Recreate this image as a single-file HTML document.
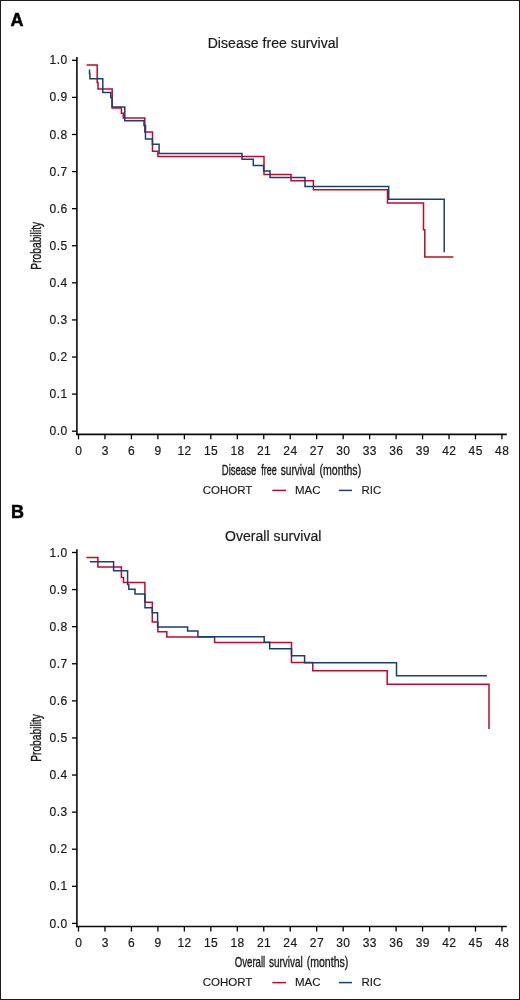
<!DOCTYPE html>
<html><head><meta charset="utf-8">
<style>
html,body{margin:0;padding:0;background:#fff;}
body{width:520px;height:1000px;overflow:hidden;}
svg{display:block;will-change:transform;}
text{font-family:"Liberation Sans",sans-serif;fill:#1a1a1a;}
.lab{font-size:36px;font-weight:bold;fill:#000;stroke:#000;stroke-width:1px;}
.title{font-size:28px;letter-spacing:0.1px;stroke:#1a1a1a;stroke-width:0.4px;}
.tl{font-size:24px;letter-spacing:0.8px;stroke:#1a1a1a;stroke-width:0.4px;}
.leg{font-size:23px;stroke:#1a1a1a;stroke-width:0.3px;}
.cond{font-size:28px;stroke:#1a1a1a;stroke-width:0.7px;}
.ax{stroke:#0a0a0a;stroke-width:1.6;}
.tk{stroke:#000;stroke-width:1.3;}
</style></head><body>
<svg width="520" height="1000" viewBox="0 0 520 1000">
<rect x="0.5" y="0.5" width="519" height="999" fill="#fff" stroke="#1c1c1c" stroke-width="1"/>
<text transform="translate(10.40 25.90) scale(0.5)" class="lab">A</text>
<text transform="translate(273.20 48.40) scale(0.5)" class="title" text-anchor="middle">Disease free survival</text>
<line x1="76.9" y1="57.1" x2="76.9" y2="435.05" class="ax"/>
<line x1="76.1" y1="434.35" x2="506.8" y2="434.35" class="ax"/>
<line x1="72" y1="431.20" x2="77" y2="431.20" class="tk"/>
<text transform="translate(67.50 435.30) scale(0.5)" class="tl" text-anchor="end">0.0</text>
<line x1="72" y1="394.11" x2="77" y2="394.11" class="tk"/>
<text transform="translate(67.50 398.21) scale(0.5)" class="tl" text-anchor="end">0.1</text>
<line x1="72" y1="357.02" x2="77" y2="357.02" class="tk"/>
<text transform="translate(67.50 361.12) scale(0.5)" class="tl" text-anchor="end">0.2</text>
<line x1="72" y1="319.93" x2="77" y2="319.93" class="tk"/>
<text transform="translate(67.50 324.03) scale(0.5)" class="tl" text-anchor="end">0.3</text>
<line x1="72" y1="282.84" x2="77" y2="282.84" class="tk"/>
<text transform="translate(67.50 286.94) scale(0.5)" class="tl" text-anchor="end">0.4</text>
<line x1="72" y1="245.75" x2="77" y2="245.75" class="tk"/>
<text transform="translate(67.50 249.85) scale(0.5)" class="tl" text-anchor="end">0.5</text>
<line x1="72" y1="208.66" x2="77" y2="208.66" class="tk"/>
<text transform="translate(67.50 212.76) scale(0.5)" class="tl" text-anchor="end">0.6</text>
<line x1="72" y1="171.57" x2="77" y2="171.57" class="tk"/>
<text transform="translate(67.50 175.67) scale(0.5)" class="tl" text-anchor="end">0.7</text>
<line x1="72" y1="134.48" x2="77" y2="134.48" class="tk"/>
<text transform="translate(67.50 138.58) scale(0.5)" class="tl" text-anchor="end">0.8</text>
<line x1="72" y1="97.39" x2="77" y2="97.39" class="tk"/>
<text transform="translate(67.50 101.49) scale(0.5)" class="tl" text-anchor="end">0.9</text>
<line x1="72" y1="60.30" x2="77" y2="60.30" class="tk"/>
<text transform="translate(67.50 64.40) scale(0.5)" class="tl" text-anchor="end">1.0</text>
<line x1="78.50" y1="434.35" x2="78.50" y2="439.35" class="tk"/>
<text transform="translate(78.70 454.90) scale(0.5)" class="tl" text-anchor="middle">0</text>
<line x1="104.97" y1="434.35" x2="104.97" y2="439.35" class="tk"/>
<text transform="translate(105.17 454.90) scale(0.5)" class="tl" text-anchor="middle">3</text>
<line x1="131.43" y1="434.35" x2="131.43" y2="439.35" class="tk"/>
<text transform="translate(131.63 454.90) scale(0.5)" class="tl" text-anchor="middle">6</text>
<line x1="157.90" y1="434.35" x2="157.90" y2="439.35" class="tk"/>
<text transform="translate(158.10 454.90) scale(0.5)" class="tl" text-anchor="middle">9</text>
<line x1="184.36" y1="434.35" x2="184.36" y2="439.35" class="tk"/>
<text transform="translate(184.56 454.90) scale(0.5)" class="tl" text-anchor="middle">12</text>
<line x1="210.83" y1="434.35" x2="210.83" y2="439.35" class="tk"/>
<text transform="translate(211.03 454.90) scale(0.5)" class="tl" text-anchor="middle">15</text>
<line x1="237.30" y1="434.35" x2="237.30" y2="439.35" class="tk"/>
<text transform="translate(237.50 454.90) scale(0.5)" class="tl" text-anchor="middle">18</text>
<line x1="263.76" y1="434.35" x2="263.76" y2="439.35" class="tk"/>
<text transform="translate(263.96 454.90) scale(0.5)" class="tl" text-anchor="middle">21</text>
<line x1="290.23" y1="434.35" x2="290.23" y2="439.35" class="tk"/>
<text transform="translate(290.43 454.90) scale(0.5)" class="tl" text-anchor="middle">24</text>
<line x1="316.69" y1="434.35" x2="316.69" y2="439.35" class="tk"/>
<text transform="translate(316.89 454.90) scale(0.5)" class="tl" text-anchor="middle">27</text>
<line x1="343.16" y1="434.35" x2="343.16" y2="439.35" class="tk"/>
<text transform="translate(343.36 454.90) scale(0.5)" class="tl" text-anchor="middle">30</text>
<line x1="369.63" y1="434.35" x2="369.63" y2="439.35" class="tk"/>
<text transform="translate(369.83 454.90) scale(0.5)" class="tl" text-anchor="middle">33</text>
<line x1="396.09" y1="434.35" x2="396.09" y2="439.35" class="tk"/>
<text transform="translate(396.29 454.90) scale(0.5)" class="tl" text-anchor="middle">36</text>
<line x1="422.56" y1="434.35" x2="422.56" y2="439.35" class="tk"/>
<text transform="translate(422.76 454.90) scale(0.5)" class="tl" text-anchor="middle">39</text>
<line x1="449.02" y1="434.35" x2="449.02" y2="439.35" class="tk"/>
<text transform="translate(449.22 454.90) scale(0.5)" class="tl" text-anchor="middle">42</text>
<line x1="475.49" y1="434.35" x2="475.49" y2="439.35" class="tk"/>
<text transform="translate(475.69 454.90) scale(0.5)" class="tl" text-anchor="middle">45</text>
<line x1="501.96" y1="434.35" x2="501.96" y2="439.35" class="tk"/>
<text transform="translate(502.16 454.90) scale(0.5)" class="tl" text-anchor="middle">48</text>
<text transform="translate(41.10 269.64) rotate(-90) scale(0.5)" class="cond" textLength="95.52" lengthAdjust="spacingAndGlyphs">Probability</text>
<text transform="translate(221.82 474.90) scale(0.5)" class="cond" textLength="68.81" lengthAdjust="spacingAndGlyphs">Disease</text>
<text transform="translate(261.17 474.90) scale(0.5)" class="cond" textLength="31.06" lengthAdjust="spacingAndGlyphs">free</text>
<text transform="translate(280.72 474.90) scale(0.5)" class="cond" textLength="68.72" lengthAdjust="spacingAndGlyphs">survival</text>
<text transform="translate(319.55 474.90) scale(0.5)" class="cond" textLength="83.22" lengthAdjust="spacingAndGlyphs">(months)</text>
<text transform="translate(202.70 494.00) scale(0.5)" class="leg">COHORT</text>
<line x1="272.3" y1="490.4" x2="286" y2="490.4" stroke="#bc0b2d" stroke-width="1.5"/>
<text transform="translate(295.00 494.00) scale(0.5)" class="leg">MAC</text>
<line x1="338.8" y1="490.4" x2="352" y2="490.4" stroke="#1d3f70" stroke-width="1.5"/>
<text transform="translate(361.50 494.00) scale(0.5)" class="leg">RIC</text>
<text transform="translate(11.10 517.90) scale(0.5)" class="lab">B</text>
<text transform="translate(273.20 540.60) scale(0.5)" class="title" text-anchor="middle">Overall survival</text>
<line x1="76.9" y1="549.3" x2="76.9" y2="927.25" class="ax"/>
<line x1="76.1" y1="926.55" x2="506.8" y2="926.55" class="ax"/>
<line x1="72" y1="923.40" x2="77" y2="923.40" class="tk"/>
<text transform="translate(67.50 927.50) scale(0.5)" class="tl" text-anchor="end">0.0</text>
<line x1="72" y1="886.31" x2="77" y2="886.31" class="tk"/>
<text transform="translate(67.50 890.41) scale(0.5)" class="tl" text-anchor="end">0.1</text>
<line x1="72" y1="849.22" x2="77" y2="849.22" class="tk"/>
<text transform="translate(67.50 853.32) scale(0.5)" class="tl" text-anchor="end">0.2</text>
<line x1="72" y1="812.13" x2="77" y2="812.13" class="tk"/>
<text transform="translate(67.50 816.23) scale(0.5)" class="tl" text-anchor="end">0.3</text>
<line x1="72" y1="775.04" x2="77" y2="775.04" class="tk"/>
<text transform="translate(67.50 779.14) scale(0.5)" class="tl" text-anchor="end">0.4</text>
<line x1="72" y1="737.95" x2="77" y2="737.95" class="tk"/>
<text transform="translate(67.50 742.05) scale(0.5)" class="tl" text-anchor="end">0.5</text>
<line x1="72" y1="700.86" x2="77" y2="700.86" class="tk"/>
<text transform="translate(67.50 704.96) scale(0.5)" class="tl" text-anchor="end">0.6</text>
<line x1="72" y1="663.77" x2="77" y2="663.77" class="tk"/>
<text transform="translate(67.50 667.87) scale(0.5)" class="tl" text-anchor="end">0.7</text>
<line x1="72" y1="626.68" x2="77" y2="626.68" class="tk"/>
<text transform="translate(67.50 630.78) scale(0.5)" class="tl" text-anchor="end">0.8</text>
<line x1="72" y1="589.59" x2="77" y2="589.59" class="tk"/>
<text transform="translate(67.50 593.69) scale(0.5)" class="tl" text-anchor="end">0.9</text>
<line x1="72" y1="552.50" x2="77" y2="552.50" class="tk"/>
<text transform="translate(67.50 556.60) scale(0.5)" class="tl" text-anchor="end">1.0</text>
<line x1="78.50" y1="926.55" x2="78.50" y2="931.55" class="tk"/>
<text transform="translate(78.70 947.10) scale(0.5)" class="tl" text-anchor="middle">0</text>
<line x1="104.97" y1="926.55" x2="104.97" y2="931.55" class="tk"/>
<text transform="translate(105.17 947.10) scale(0.5)" class="tl" text-anchor="middle">3</text>
<line x1="131.43" y1="926.55" x2="131.43" y2="931.55" class="tk"/>
<text transform="translate(131.63 947.10) scale(0.5)" class="tl" text-anchor="middle">6</text>
<line x1="157.90" y1="926.55" x2="157.90" y2="931.55" class="tk"/>
<text transform="translate(158.10 947.10) scale(0.5)" class="tl" text-anchor="middle">9</text>
<line x1="184.36" y1="926.55" x2="184.36" y2="931.55" class="tk"/>
<text transform="translate(184.56 947.10) scale(0.5)" class="tl" text-anchor="middle">12</text>
<line x1="210.83" y1="926.55" x2="210.83" y2="931.55" class="tk"/>
<text transform="translate(211.03 947.10) scale(0.5)" class="tl" text-anchor="middle">15</text>
<line x1="237.30" y1="926.55" x2="237.30" y2="931.55" class="tk"/>
<text transform="translate(237.50 947.10) scale(0.5)" class="tl" text-anchor="middle">18</text>
<line x1="263.76" y1="926.55" x2="263.76" y2="931.55" class="tk"/>
<text transform="translate(263.96 947.10) scale(0.5)" class="tl" text-anchor="middle">21</text>
<line x1="290.23" y1="926.55" x2="290.23" y2="931.55" class="tk"/>
<text transform="translate(290.43 947.10) scale(0.5)" class="tl" text-anchor="middle">24</text>
<line x1="316.69" y1="926.55" x2="316.69" y2="931.55" class="tk"/>
<text transform="translate(316.89 947.10) scale(0.5)" class="tl" text-anchor="middle">27</text>
<line x1="343.16" y1="926.55" x2="343.16" y2="931.55" class="tk"/>
<text transform="translate(343.36 947.10) scale(0.5)" class="tl" text-anchor="middle">30</text>
<line x1="369.63" y1="926.55" x2="369.63" y2="931.55" class="tk"/>
<text transform="translate(369.83 947.10) scale(0.5)" class="tl" text-anchor="middle">33</text>
<line x1="396.09" y1="926.55" x2="396.09" y2="931.55" class="tk"/>
<text transform="translate(396.29 947.10) scale(0.5)" class="tl" text-anchor="middle">36</text>
<line x1="422.56" y1="926.55" x2="422.56" y2="931.55" class="tk"/>
<text transform="translate(422.76 947.10) scale(0.5)" class="tl" text-anchor="middle">39</text>
<line x1="449.02" y1="926.55" x2="449.02" y2="931.55" class="tk"/>
<text transform="translate(449.22 947.10) scale(0.5)" class="tl" text-anchor="middle">42</text>
<line x1="475.49" y1="926.55" x2="475.49" y2="931.55" class="tk"/>
<text transform="translate(475.69 947.10) scale(0.5)" class="tl" text-anchor="middle">45</text>
<line x1="501.96" y1="926.55" x2="501.96" y2="931.55" class="tk"/>
<text transform="translate(502.16 947.10) scale(0.5)" class="tl" text-anchor="middle">48</text>
<text transform="translate(41.10 761.84) rotate(-90) scale(0.5)" class="cond" textLength="95.52" lengthAdjust="spacingAndGlyphs">Probability</text>
<text transform="translate(234.74 967.10) scale(0.5)" class="cond" textLength="61.00" lengthAdjust="spacingAndGlyphs">Overall</text>
<text transform="translate(268.92 967.10) scale(0.5)" class="cond" textLength="67.69" lengthAdjust="spacingAndGlyphs">survival</text>
<text transform="translate(306.64 967.10) scale(0.5)" class="cond" textLength="83.42" lengthAdjust="spacingAndGlyphs">(months)</text>
<text transform="translate(202.70 986.20) scale(0.5)" class="leg">COHORT</text>
<line x1="272.3" y1="982.6" x2="286" y2="982.6" stroke="#bc0b2d" stroke-width="1.5"/>
<text transform="translate(295.00 986.20) scale(0.5)" class="leg">MAC</text>
<line x1="338.8" y1="982.6" x2="352" y2="982.6" stroke="#1d3f70" stroke-width="1.5"/>
<text transform="translate(361.50 986.20) scale(0.5)" class="leg">RIC</text>
<path d="M86.6 65.1H97.2V82.6H98V89.1H112.2V108.1H121.4V113.3H123.3V118.1H144.8V132H152.5V151.3H157.9V156.5H264V174.4H291V180.8H313.4V189.7H387.5V202.9H423.5V229.8H424.8V256.9H453.4" fill="none" stroke="#bc0b2d" stroke-width="1.5"/>
<path d="M89.5 69.5V73.4H89.9V78.8H102.8V92.6H110.8V97.4H112V106.9H124.8V120.8H144V125.4H145.5V139.1H152.4V144.3H159.1V153.5H242V159.3H253.3V165.4H263.6V170.9H270V177.5H305V186.6H388.7V199.2H444.2V252.3" fill="none" stroke="#1d3f70" stroke-width="1.5"/>
<path d="M86.4 557.5H97.9V567.0H121.4V577.5H123.5V582.5H144.9V602.2H152.3V622.1H157.9V631.7H166.8V637.1H214.6V642.5H291.5V662.6H312.8V670.7H387.2V684.2H489V728.9" fill="none" stroke="#bc0b2d" stroke-width="1.5"/>
<path d="M89.9 561.7H113.6V570.8H127.6V584.5H128.8V589.2H135V593.9H145V607.8H152.3V612.7H157.6V627.1H187.6V630.9H197.9V636.8H264.2V642.3H269.7V648.8H291.5V655.7H304.6V662.8H396.5V675.8H486.9" fill="none" stroke="#1d3f70" stroke-width="1.5"/>
</svg>
</body></html>
